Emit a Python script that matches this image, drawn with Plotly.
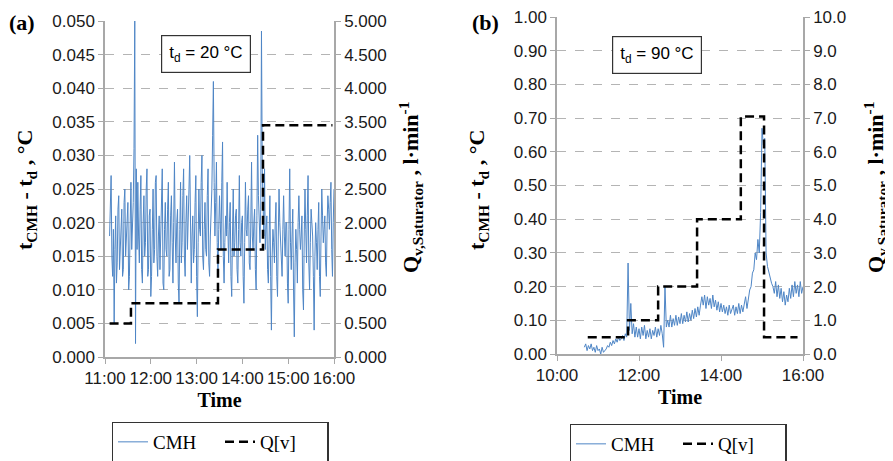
import pandas as pd
import plotly.graph_objects as go

# --- panel (a): t_d = 20 C, CMH readings every minute from 11:06 ---
cmh_a = [0.018, 0.024, 0.027, 0.015, 0.012, 0.019, 0.005, 0.016, 0.021, 0.011,
         0.014, 0.022, 0.024, 0.013, 0.016, 0.020, 0.022, 0.012, 0.013, 0.023,
         0.025, 0.015, 0.017, 0.021, 0.023, 0.010, 0.012, 0.020, 0.026, 0.016,
         0.019, 0.023,
         0.031, 0.050, 0.002, 0.028, 0.016,
         0.026, 0.018, 0.014, 0.022, 0.027, 0.013, 0.011, 0.020, 0.024, 0.015,
         0.017, 0.025, 0.028, 0.012, 0.013, 0.021, 0.022, 0.009, 0.012, 0.019,
         0.025, 0.014, 0.016, 0.026, 0.027, 0.015, 0.012, 0.018, 0.021, 0.013,
         0.018, 0.024, 0.028, 0.011, 0.010, 0.019, 0.023, 0.016, 0.015, 0.022,
         0.026, 0.012, 0.013, 0.021, 0.024, 0.017, 0.011, 0.020,
         0.029, 0.018, 0.014, 0.020, 0.022, 0.011, 0.008, 0.019, 0.026, 0.014,
         0.017, 0.024, 0.028, 0.015, 0.012, 0.020, 0.024, 0.016, 0.019, 0.025,
         0.030, 0.013, 0.011, 0.018, 0.021, 0.014, 0.016, 0.023, 0.027, 0.012,
         0.006, 0.017, 0.025, 0.019, 0.018, 0.026, 0.030, 0.015, 0.013, 0.019,
         0.023, 0.016, 0.015, 0.024, 0.028, 0.014, 0.012, 0.018, 0.022,
         0.025, 0.033, 0.041, 0.026, 0.018, 0.023, 0.029, 0.017, 0.012, 0.019,
         0.024, 0.020, 0.016, 0.026, 0.032, 0.015, 0.011, 0.017, 0.021, 0.018,
         0.026, 0.019, 0.014, 0.020, 0.023, 0.012, 0.009, 0.018, 0.025, 0.015,
         0.017, 0.021, 0.022, 0.013, 0.011, 0.019, 0.027, 0.017, 0.015, 0.020,
         0.021, 0.012, 0.008, 0.017, 0.026, 0.019, 0.018, 0.022, 0.024, 0.014,
         0.013, 0.020, 0.029, 0.018, 0.016, 0.020, 0.022, 0.013, 0.010, 0.021,
         0.033, 0.024, 0.019, 0.017, 0.022,
         0.0485, 0.028, 0.022, 0.018, 0.028,
         0.016, 0.019, 0.021, 0.013, 0.011, 0.018, 0.024, 0.012, 0.004, 0.015,
         0.019, 0.017, 0.014, 0.020, 0.023, 0.012, 0.009, 0.018, 0.025, 0.020,
         0.017, 0.013, 0.012, 0.019, 0.024, 0.018, 0.015, 0.020, 0.020, 0.011,
         0.008, 0.019, 0.028, 0.017, 0.013, 0.018, 0.022, 0.010, 0.003, 0.014,
         0.019, 0.016, 0.011, 0.020, 0.024, 0.019, 0.016, 0.018, 0.021, 0.010,
         0.007, 0.018, 0.025, 0.019, 0.014, 0.021, 0.027, 0.014, 0.010, 0.017,
         0.022, 0.020, 0.018, 0.012, 0.004, 0.015, 0.020, 0.017, 0.013, 0.019,
         0.023, 0.012, 0.009, 0.018, 0.025, 0.021, 0.017, 0.019, 0.021, 0.014,
         0.012, 0.020, 0.024, 0.022, 0.019, 0.023, 0.026, 0.016, 0.012, 0.020,
         0.025]
t_a = pd.date_range("2020-01-01 11:06", periods=len(cmh_a), freq="1min")

q_a_time = ["2020-01-01 11:06", "2020-01-01 11:34", "2020-01-01 13:28", "2020-01-01 14:27", "2020-01-01 15:58"]
q_a = [0.5, 0.8, 1.6, 3.45, 3.45]

# --- panel (b): t_d = 90 C, CMH readings every 2 min from 10:40 ---
cmh_b = [0.02, 0.03, 0.01, 0.025, 0.015, 0.03, 0.01, 0.02, 0.005, 0.025, 0.01, 0.015, 0.0, 0.02, 0.005, 0.01,
         0.015, 0.025, 0.02, 0.035, 0.025, 0.04, 0.03, 0.045, 0.035, 0.05, 0.04, 0.045, 0.055, 0.04, 0.06, 0.05,
         0.27, 0.07, 0.15, 0.06, 0.09, 0.05,
         0.08, 0.05, 0.075, 0.045, 0.08, 0.055, 0.085, 0.045, 0.07, 0.05, 0.075, 0.045, 0.07, 0.055, 0.08, 0.05,
         0.075, 0.055, 0.085, 0.06,
         0.02, 0.2, 0.08,
         0.1, 0.08, 0.115, 0.08, 0.105, 0.085, 0.115, 0.085, 0.11, 0.09, 0.12, 0.09, 0.115, 0.095, 0.125, 0.095,
         0.12, 0.1, 0.13, 0.105, 0.135, 0.11, 0.14, 0.115, 0.145,
         0.17, 0.145, 0.175, 0.135, 0.17, 0.145, 0.165, 0.135, 0.175, 0.14, 0.16, 0.13, 0.155, 0.125, 0.15,
         0.125, 0.145, 0.12, 0.14, 0.115, 0.145, 0.12, 0.135, 0.145, 0.115, 0.14, 0.12, 0.15, 0.12, 0.145, 0.125,
         0.15, 0.17, 0.135,
         0.16, 0.19, 0.2, 0.24, 0.25, 0.3, 0.28, 0.34, 0.3, 0.42,
         0.67, 0.62, 0.64,
         0.3, 0.26, 0.24, 0.22, 0.21,
         0.2, 0.18, 0.215, 0.17, 0.205, 0.165, 0.195, 0.155, 0.185, 0.145, 0.175, 0.155, 0.195, 0.165, 0.205, 0.17,
         0.215, 0.18, 0.205, 0.17, 0.215, 0.18, 0.2]
t_b = pd.date_range("2020-01-01 10:40", periods=len(cmh_b), freq="2min")

q_b_time = ["2020-01-01 10:45", "2020-01-01 11:44", "2020-01-01 12:28", "2020-01-01 13:25",
            "2020-01-01 14:29", "2020-01-01 15:03", "2020-01-01 15:52"]
q_b = [0.5, 1.0, 2.0, 4.0, 7.05, 0.5, 0.5]

SERIF = "Liberation Serif"
SANS = "Liberation Sans"
BLUE = "#4f86c6"
GRID = "#b4b4b4"
AXC = "#a8a8a8"

# the page body keeps an 8px margin, so the figure is drawn 8px in from the window corner
OFF = 8
W, H = 893 - OFF, 461 - OFF


def px(x):
    return (x - OFF) / W


def py(y):
    return 1 - (y - OFF) / H


fig = go.Figure()
fig.add_trace(go.Scatter(x=t_a, y=cmh_a, mode="lines", name="CMH", line=dict(color=BLUE, width=1),
                         xaxis="x", yaxis="y", legend="legend"))
fig.add_trace(go.Scatter(x=q_a_time, y=q_a, mode="lines", name="Q[v]", line_shape="hv",
                         line=dict(color="black", width=2.5, dash="9px,5px"),
                         xaxis="x", yaxis="y2", legend="legend"))
fig.add_trace(go.Scatter(x=t_b, y=cmh_b, mode="lines", name="CMH", line=dict(color=BLUE, width=1),
                         xaxis="x2", yaxis="y3", legend="legend2"))
fig.add_trace(go.Scatter(x=q_b_time, y=q_b, mode="lines", name="Q[v]", line_shape="hv",
                         line=dict(color="black", width=2.5, dash="9px,5px"),
                         xaxis="x2", yaxis="y4", legend="legend2"))

tickfont = dict(family=SANS, size=17, color="#1a1a1a")
common_x = dict(type="date", tickformat="%H:%M", showline=True, linecolor=AXC, linewidth=1.5,
                ticks="outside", ticklen=5, tickcolor=AXC, showgrid=False, tickfont=tickfont, automargin=False,
                title=dict(text="<b>Time</b>", font=dict(family=SERIF, size=20, color="black"), standoff=6))
common_y = dict(showline=True, linecolor=AXC, linewidth=1.5, ticks="outside", ticklen=5, tickcolor=AXC,
                tickfont=tickfont, zeroline=False, automargin=False)

legend_style = dict(orientation="h", xanchor="center", yanchor="middle", bordercolor="#333", borderwidth=1.5,
                    font=dict(family=SERIF, size=19, color="black"), entrywidth=62, tracegroupgap=0,
                    itemwidth=30)

fig.update_layout(
    width=W, height=H,
    margin=dict(l=0, r=0, t=0, b=0, autoexpand=False),
    paper_bgcolor="white", plot_bgcolor="white",
    font=dict(family=SERIF),
    xaxis=dict(common_x, domain=[px(105), px(334)], range=["2020-01-01 11:00", "2020-01-01 16:00"],
               dtick=3600000, anchor="y"),
    yaxis=dict(common_y, domain=[py(357), py(21)], range=[0, 0.05], dtick=0.005, tickformat=".3f",
               showgrid=True, gridcolor=GRID, griddash="dash", anchor="x"),
    yaxis2=dict(common_y, range=[0, 5], dtick=0.5, tickformat=".3f", overlaying="y", side="right",
                anchor="x", showgrid=False),
    xaxis2=dict(common_x, domain=[px(557), px(803)], range=["2020-01-01 10:00", "2020-01-01 16:00"],
                dtick=7200000, anchor="y3"),
    yaxis3=dict(common_y, domain=[py(354), py(17)], range=[0, 1.0002], tick0=0, dtick=0.1, tickformat=".2f",
                showgrid=True, gridcolor=GRID, griddash="dash", anchor="x2"),
    yaxis4=dict(common_y, range=[0, 10.002], tick0=0, dtick=1, tickformat=".1f", overlaying="y3", side="right",
                anchor="x2", showgrid=False),
    legend=dict(legend_style, x=px(220), y=py(442)),
    legend2=dict(legend_style, x=px(678), y=py(444)),
    showlegend=True,
)

title_font = dict(family=SERIF, size=22, color="black")
ann = [
    dict(text="<b>(a)</b>", x=px(22), y=py(22), font=title_font),
    dict(text="<b>(b)</b>", x=px(485), y=py(22), font=title_font),
    dict(text="<b>t<sub>CMH</sub> - t<sub>d</sub> , °C</b>", x=px(26), y=py(190),
         textangle=-90, font=title_font),
    dict(text="<b>Q<sub>v,Saturator</sub> , l·min<sup>-1</sup></b>", x=px(410), y=py(188),
         textangle=-90, font=title_font),
    dict(text="<b>t<sub>CMH</sub> - t<sub>d</sub> , °C</b>", x=px(478), y=py(190),
         textangle=-90, font=title_font),
    dict(text="<b>Q<sub>v,Saturator</sub> , l·min<sup>-1</sup></b>", x=px(875), y=py(188),
         textangle=-90, font=title_font),
    dict(text="t<sub>d</sub> = 20 °C", x=px(206), y=py(54), bordercolor="#333", borderwidth=1.2,
         borderpad=7, bgcolor="white", font=dict(family=SANS, size=17, color="black")),
    dict(text="t<sub>d</sub> = 90 °C", x=px(657), y=py(55), bordercolor="#333", borderwidth=1.2,
         borderpad=7, bgcolor="white", font=dict(family=SANS, size=17, color="black")),
]
for a in ann:
    fig.add_annotation(a, xref="paper", yref="paper", showarrow=False, xanchor="center", yanchor="middle")

fig.write_html("out.html")
